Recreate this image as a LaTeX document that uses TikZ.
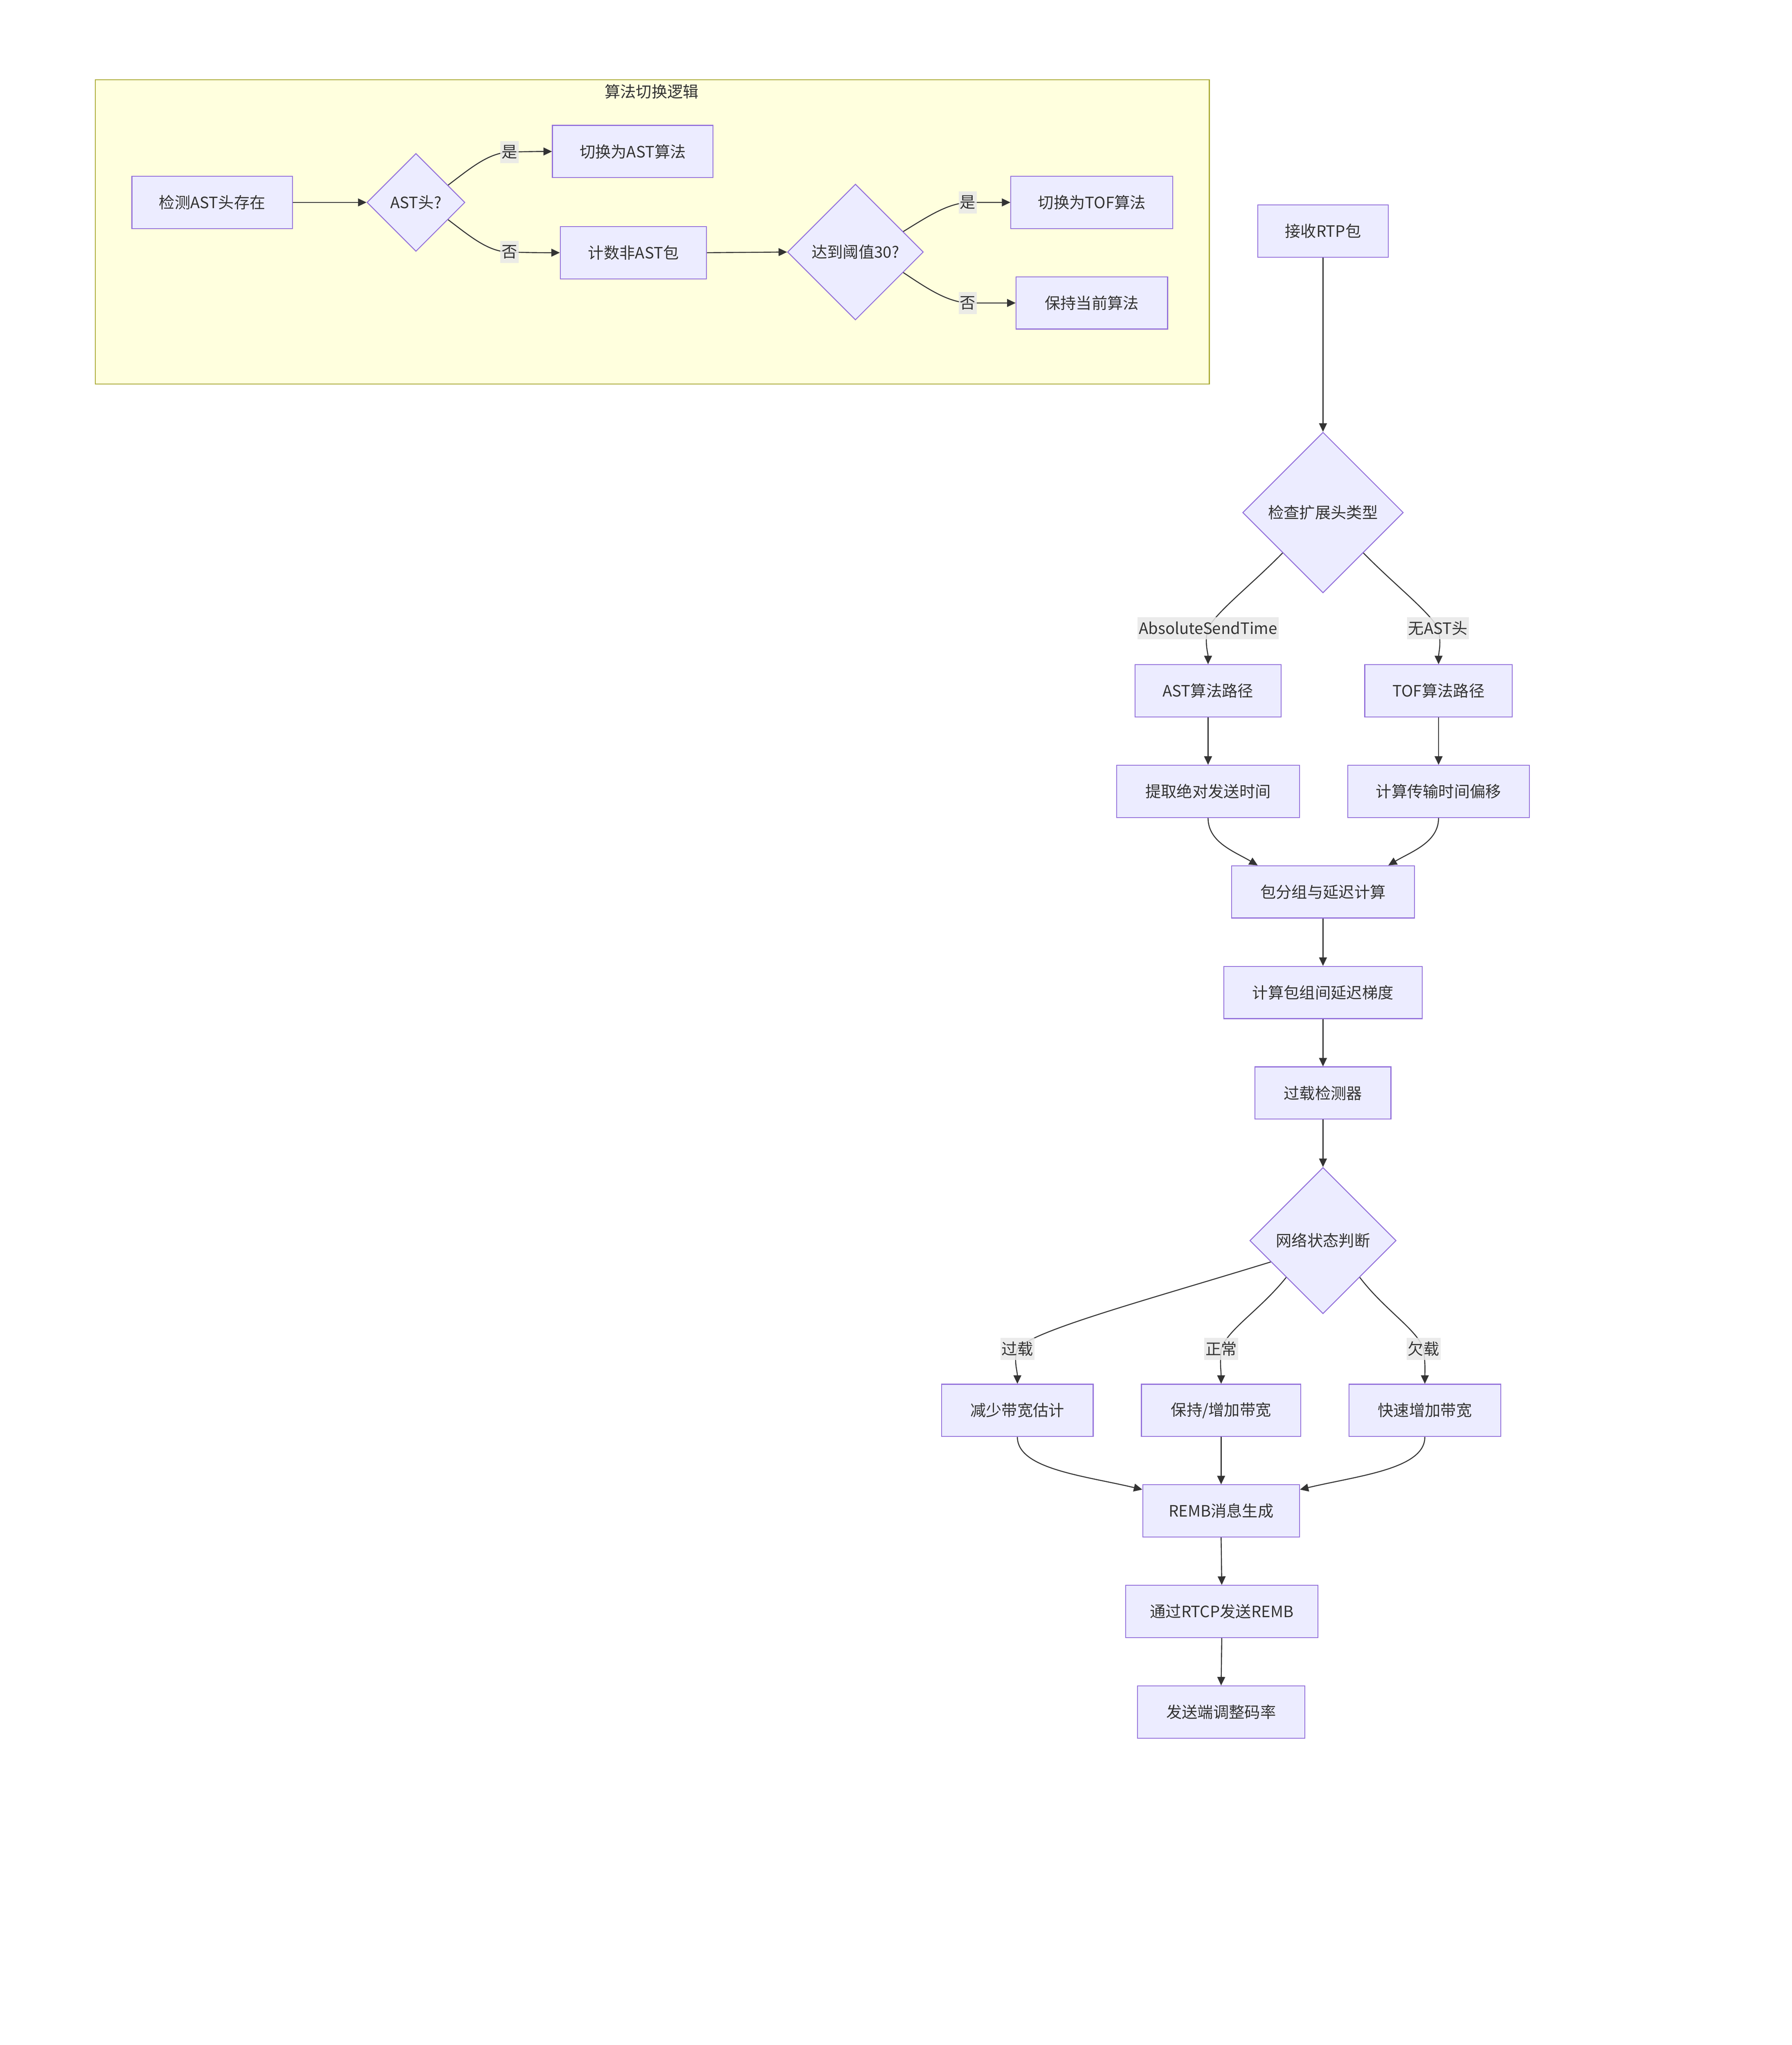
\documentclass[tikz,border=0pt]{standalone}
\usepackage{fontspec}
\setmainfont{Noto Sans CJK SC}
\usetikzlibrary{shapes.geometric,arrows.meta,calc}
\definecolor{nodefill}{HTML}{ECECFF}
\definecolor{nodeline}{HTML}{9370DB}
\definecolor{edgec}{HTML}{333333}
\definecolor{sgfill}{HTML}{FFFFDE}
\definecolor{sgline}{HTML}{AAAA33}
\definecolor{lblbg}{HTML}{E8E8E8}
\begin{document}
\begin{tikzpicture}[x=1pt,y=-1pt,
  txt/.style={font=\fontsize{12}{14}\selectfont, text=edgec},
  box/.style={txt, draw=nodeline, fill=nodefill, line width=0.7pt, minimum width=#1, minimum height=40pt, inner sep=0pt},
  dia/.style={txt, diamond, draw=nodeline, fill=nodefill, line width=0.7pt, minimum width=#1, minimum height=#1, inner sep=0pt},
  conn/.style={draw=edgec, line width=0.75pt, -{Triangle[length=6.5pt,width=6pt]}},
  lbl/.style={txt, fill=lblbg, fill opacity=0.85, text opacity=1, inner xsep=1pt, inner ysep=0pt, minimum height=17pt}
]
\useasboundingbox (0,0) rectangle (1372,1566);
\fill[white] (0,0) rectangle (1372,1566);

% subgraph
\draw[sgline, fill=sgfill, line width=0.75pt] (73,61) rectangle (926,294);
\node[txt] (sgtitle) at (499,70) {算法切换逻辑};

\node[box=123pt] (n1) at (162.5,155) {检测AST头存在};
\node[dia=75pt] (d1) at (318.5,155) {AST头?};
\node[box=123pt] (n2) at (484.5,116) {切换为AST算法};
\node[box=112pt] (n3) at (485,193.5) {计数非AST包};
\node[dia=104pt] (d2) at (655,193) {达到阈值30?};
\node[box=124pt] (n4) at (836,155) {切换为TOF算法};
\node[box=116pt] (n5) at (836,232) {保持当前算法};

% main flow
\node[box=100pt] (m1) at (1013,177) {接收RTP包};
\node[dia=123pt] (d3) at (1013,392.5) {检查扩展头类型};
\node[box=112pt] (m2) at (925,529) {AST算法路径};
\node[box=113pt] (m3) at (1101.5,529) {TOF算法路径};
\node[box=140pt] (m4) at (925,606) {提取绝对发送时间};
\node[box=139pt] (m5) at (1101.5,606) {计算传输时间偏移};
\node[box=140pt] (m6) at (1013,683) {包分组与延迟计算};
\node[box=152pt] (m7) at (1013,760) {计算包组间延迟梯度};
\node[box=104pt] (m8) at (1013,837) {过载检测器};
\node[dia=112pt] (d4) at (1013,950) {网络状态判断};
\node[box=116pt] (m9) at (779,1080) {减少带宽估计};
\node[box=122pt] (m10) at (935,1080) {保持/增加带宽};
\node[box=116pt] (m11) at (1091,1080) {快速增加带宽};
\node[box=120pt] (m12) at (935,1157) {REMB消息生成};
\node[box=147pt] (m13) at (935.5,1234) {通过RTCP发送REMB};
\node[box=128pt] (m14) at (935,1311) {发送端调整码率};

% subgraph edges
\draw[conn] (n1.east) -- (d1.west);
\draw[conn] ($(d1.east)!0.35!(d1.north)$) .. controls (360,129) and (374,117) .. (390,116.5) node[lbl] {是} .. controls (405,116) and (412,116) .. (n2.west);
\draw[conn] ($(d1.east)!0.35!(d1.south)$) .. controls (360,181) and (374,193) .. (390,193) node[lbl] {否} .. controls (405,193.5) and (415,193.5) .. (n3.west);
\draw[conn] (n3.east) -- (d2.west);
\draw[conn] ($(d2.east)!0.3!(d2.north)$) .. controls (710,166) and (725,156) .. (741,155) node[lbl] {是} .. controls (755,155) and (762,155) .. (n4.west);
\draw[conn] ($(d2.east)!0.3!(d2.south)$) .. controls (710,221) and (725,231) .. (741,232) node[lbl] {否} .. controls (755,232) and (765,232) .. (n5.west);

% main edges
\draw[conn] (m1.south) -- (d3.north);
\draw[conn] (d3.south west) .. controls (958,448) and (932,468) .. (925,481) node[lbl] {AbsoluteSendTime} .. controls (922,492) and (925,500) .. (m2.north);
\draw[conn] (d3.south east) .. controls (1068,448) and (1094,468) .. (1101,481) node[lbl] {无AST头} .. controls (1104,492) and (1101.5,500) .. (m3.north);
\draw[conn] (m2.south) -- (m4.north);
\draw[conn] (m3.south) -- (m5.north);
\draw[conn] (m4.south) .. controls (925,645) and (945,652) .. ([xshift=-50pt]m6.north);
\draw[conn] (m5.south) .. controls (1101.5,645) and (1081,652) .. ([xshift=50pt]m6.north);
\draw[conn] (m6.south) -- (m7.north);
\draw[conn] (m7.south) -- (m8.north);
\draw[conn] (m8.south) -- (d4.north);
\draw[conn] ($(d4.west)!0.29!(d4.south)$) .. controls (880,995) and (790,1019) .. (779,1033) node[lbl] {过载} .. controls (776,1042) and (779,1050) .. (m9.north);
\draw[conn] (d4.south west) .. controls (965,1003) and (940,1018) .. (935,1033) node[lbl] {正常} .. controls (934,1045) and (935,1050) .. (m10.north);
\draw[conn] (d4.south east) .. controls (1060,1003) and (1085,1018) .. (1090,1033) node[lbl] {欠载} .. controls (1091.5,1045) and (1091,1050) .. (m11.north);
\draw[conn] (m9.south) .. controls (779,1125) and (830,1130) .. ([yshift=-4pt]m12.north west);
\draw[conn] (m10.south) -- (m12.north);
\draw[conn] (m11.south) .. controls (1091,1125) and (1040,1130) .. ([yshift=-4pt]m12.north east);
\draw[conn] (m12.south) -- (m13.north);
\draw[conn] (m13.south) -- (m14.north);
\end{tikzpicture}
\end{document}
